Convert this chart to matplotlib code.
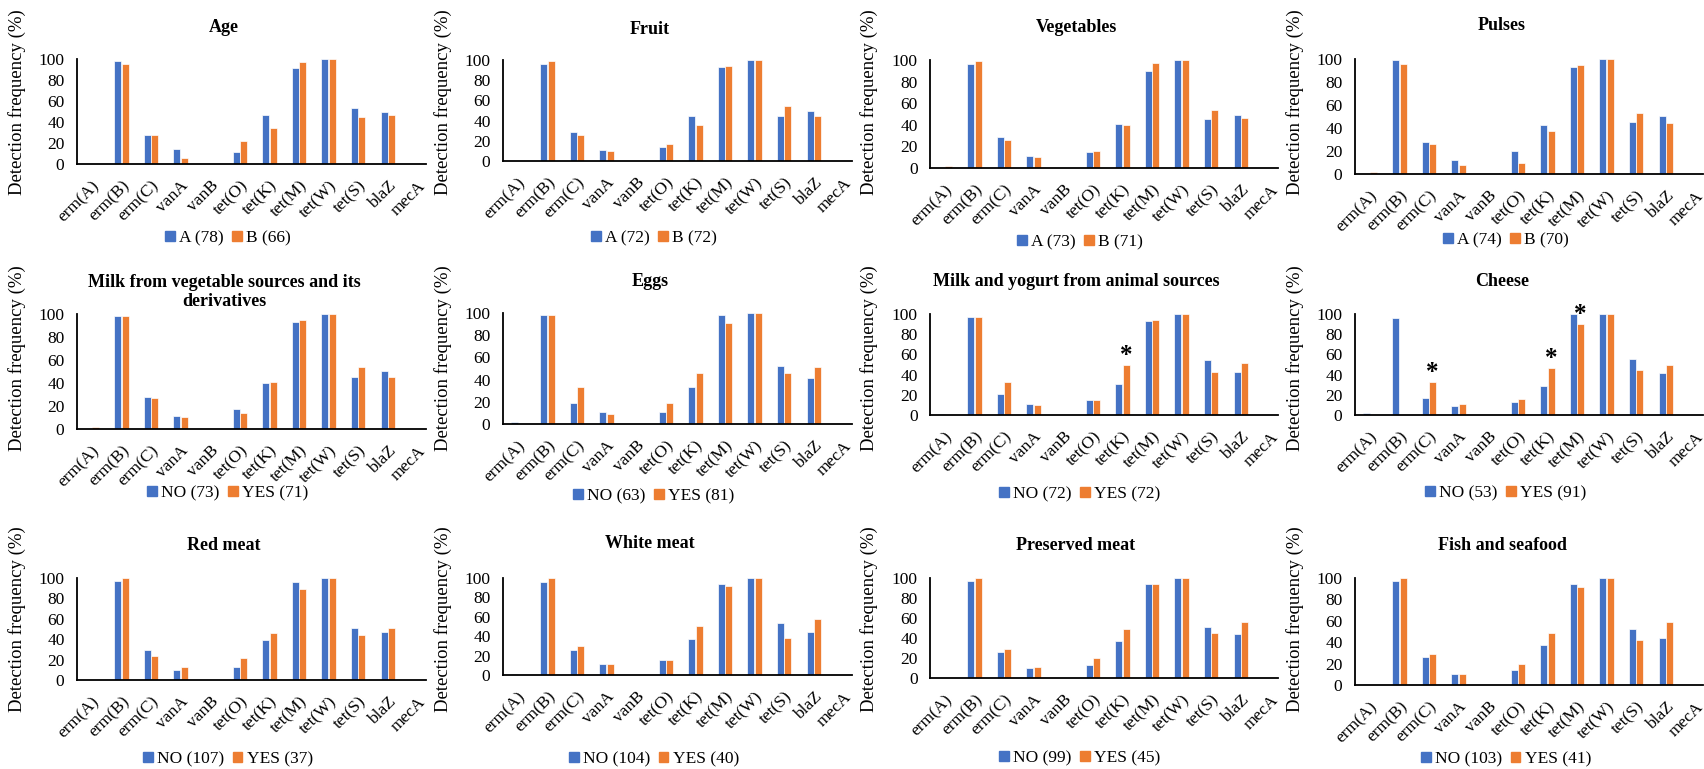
import matplotlib.pyplot as plt
import matplotlib.transforms as mtransforms
from matplotlib.patches import Patch

genes = ['erm(A)', 'erm(B)', 'erm(C)', 'vanA', 'vanB', 'tet(O)', 'tet(K)',
         'tet(M)', 'tet(W)', 'tet(S)', 'blaZ', 'mecA']

titles = ['Age', 'Fruit', 'Vegetables', 'Pulses',
          'Milk from vegetable sources and its\nderivatives', 'Eggs',
          'Milk and yogurt from animal sources', 'Cheese',
          'Red meat', 'White meat', 'Preserved meat', 'Fish and seafood']

labels_1 = ['A (78)', 'A (72)', 'A (73)', 'A (74)', 'NO (73)', 'NO (63)',
            'NO (72)', 'NO (53)', 'NO (107)', 'NO (104)', 'NO (99)', 'NO (103)']
labels_2 = ['B (66)', 'B (72)', 'B (71)', 'B (70)', 'YES (71)', 'YES (81)',
            'YES (72)', 'YES (91)', 'YES (37)', 'YES (40)', 'YES (45)', 'YES (41)']

age_a = [0, 98, 28, 14, 0, 11, 47, 91, 100, 53, 50, 0]
age_b = [0, 95, 28, 6, 0, 22, 34, 97, 100, 45, 47, 0]
fruit_a = [0, 96, 29, 11, 0, 14, 45, 93, 100, 45, 50, 0]
fruit_b = [0, 99, 26, 10, 0, 17, 36, 94, 100, 54, 45, 0]
veg_a = [0, 96, 29, 11, 0, 15, 41, 90, 100, 45, 49, 0]
veg_b = [1.4, 99, 26, 10, 0, 16, 40, 97, 100, 54, 46, 0]
pulses_a = [0, 99, 28, 12, 0, 20, 43, 93, 100, 45, 50, 0]
pulses_b = [1.4, 96, 26, 8, 0, 10, 37, 95, 100, 53, 44, 0]
vegmilk_no = [0, 98, 28, 11, 0, 17, 40, 93, 100, 45, 50, 0]
vegmilk_yes = [1.4, 98, 27, 10, 0, 14, 41, 95, 100, 54, 45, 0]
eggs_no = [1.6, 98, 19, 11, 0, 11, 33, 98, 100, 52, 41, 0]
eggs_yes = [0, 98, 33, 9, 0, 19, 46, 91, 100, 46, 51, 0]
milk_no = [1.4, 97, 21, 11, 0, 15, 31, 93, 100, 54, 43, 0]
milk_yes = [0, 97, 33, 10, 0, 15, 50, 94, 100, 43, 51, 0]
cheese_no = [1.9, 96, 17, 9, 0, 13, 29, 100, 100, 55, 42, 0]
cheese_yes = [0, 0, 33, 11, 0, 16, 47, 90, 100, 45, 50, 0]
red_no = [0, 97, 29, 10, 0, 13, 39, 96, 100, 51, 47, 0]
red_yes = [0, 100, 24, 13, 0, 22, 46, 89, 100, 44, 51, 0]
white_no = [1, 96, 26, 11, 0, 15, 37, 94, 100, 54, 44, 0]
white_yes = [0, 100, 30, 11, 0, 15, 51, 92, 100, 38, 58, 0]
preserved_no = [0, 97, 26, 10, 0, 13, 37, 94, 100, 51, 44, 0]
preserved_yes = [0, 100, 29, 11, 0, 20, 49, 94, 100, 45, 56, 0]
fish_no = [1, 97, 26, 10, 0, 14, 37, 94, 100, 52, 44, 0]
fish_yes = [0, 100, 29, 10, 0, 20, 49, 92, 100, 42, 59, 0]

series_1 = [age_a, fruit_a, veg_a, pulses_a, vegmilk_no, eggs_no,
            milk_no, cheese_no, red_no, white_no, preserved_no, fish_no]
series_2 = [age_b, fruit_b, veg_b, pulses_b, vegmilk_yes, eggs_yes,
            milk_yes, cheese_yes, red_yes, white_yes, preserved_yes, fish_yes]

# significant differences (panel index, gene index), marked on the 2nd series
stars = [(6, 6), (7, 2), (7, 6), (7, 7)]

BLUE = '#4472C4'
ORANGE = '#ED7D31'
plt.rcParams['font.family'] = ['Liberation Serif', 'DejaVu Serif']

W, H = 1704, 769
fig = plt.figure(figsize=(W / 100, H / 100), dpi=100)

# panel layout in pixels: axis left, y of 100, y of 0
lefts = [77, 503, 930, 1355]
tops = [59, 60, 60, 59, 314, 313, 314, 314, 578, 578, 578, 578]
bottoms = [164, 161, 168, 174, 429, 424, 415, 415, 680, 675, 678, 685]
title_y = [27, 29, 27, 26, 292, 281, 281, 281, 545, 544, 545, 545]
legend_y = [238, 238, 242, 240, 493, 496, 494, 493, 759, 759, 758, 759]
ylabel_y = [102, 102, 102, 102, 358, 358, 358, 358, 619, 619, 619, 619]
cat_px = 29.6
bw = 0.23
shift = mtransforms.ScaledTranslation(6 / 100, 0, fig.dpi_scale_trans)

for k in range(12):
    row, col = divmod(k, 4)
    panel_left = col * 426
    left = lefts[col]
    right = min(left + 12 * cat_px, panel_left + 426, W - 1)
    ax = fig.add_axes([left / W, 1 - bottoms[k] / H,
                       (right - left) / W, (bottoms[k] - tops[k]) / H])
    x = range(len(genes))
    ax.bar([i - 0.125 for i in x], series_1[k], width=bw, color=BLUE,
           edgecolor='white', linewidth=0.5, label=labels_1[k])
    ax.bar([i + 0.125 for i in x], series_2[k], width=bw, color=ORANGE,
           edgecolor='white', linewidth=0.5, label=labels_2[k])
    for p, g in stars:
        if p == k:
            ax.text(g + 0.125, series_2[k][g] - 2, '*', ha='center', va='bottom',
                    fontsize=18, fontweight='bold')

    ax.set_xlim(-0.5, -0.5 + (right - left) / cat_px)
    ax.set_ylim(0, 100)
    ax.set_yticks([0, 20, 40, 60, 80, 100])
    ax.set_xticks(list(x))
    ax.set_xticklabels(genes, rotation=45, ha='right', rotation_mode='anchor')
    for lab in ax.get_xticklabels():
        lab.set_transform(lab.get_transform() + shift)
    ax.tick_params(axis='y', length=0, pad=9, labelsize=12.5)
    ax.tick_params(axis='x', length=0, pad=10, labelsize=12.5)
    for s in ['top', 'right']:
        ax.spines[s].set_visible(False)
    for s in ['left', 'bottom']:
        ax.spines[s].set_linewidth(1.3)
        ax.spines[s].set_color('black')
    ax.patch.set_alpha(0)

    ax.set_ylabel('Detection frequency (%)', fontsize=13.5)
    ax.yaxis.set_label_coords((panel_left + 26 - left) / (right - left),
                              (bottoms[k] - ylabel_y[k]) / (bottoms[k] - tops[k]))

    fig.text((panel_left + 224) / W, 1 - title_y[k] / H, titles[k],
             ha='center', va='center', fontsize=13, fontweight='bold',
             linespacing=1.1)

    handles = [Patch(color=BLUE, label=labels_1[k]),
               Patch(color=ORANGE, label=labels_2[k])]
    fig.legend(handles=handles, loc='center',
               bbox_to_anchor=((panel_left + 228) / W, 1 - legend_y[k] / H),
               ncol=2, frameon=False, fontsize=12.5, handlelength=0.55,
               handleheight=0.55, handletextpad=0.25, columnspacing=0.5,
               borderpad=0, borderaxespad=0)

fig.savefig('out.png', dpi=100)
